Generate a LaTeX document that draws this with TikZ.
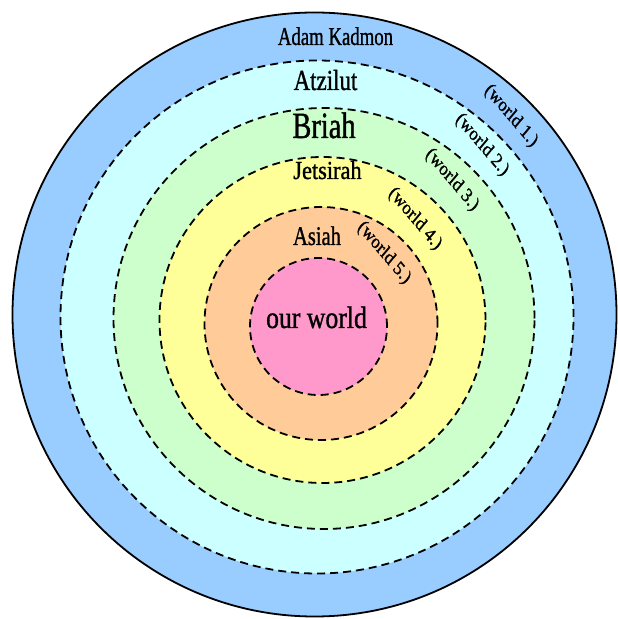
\documentclass[tikz,border=0pt]{standalone}
\usepackage{fontspec}
\setmainfont{Liberation Serif}[FakeBold=1.2]
\definecolor{cAdam}{HTML}{99CCFF}
\definecolor{cAtz}{HTML}{CCFFFF}
\definecolor{cBri}{HTML}{CCFFCC}
\definecolor{cJet}{HTML}{FFFF99}
\definecolor{cAsi}{HTML}{FFCC99}
\definecolor{cOur}{HTML}{FF99CC}
\tikzset{
  ring/.style={draw=black, line width=1.8pt, dash pattern=on 8pt off 5pt},
  outerring/.style={draw=black, line width=1.8pt},
  lbl/.style={inner sep=0pt, anchor=base, text=black},
  wlbl/.style={inner sep=0pt, anchor=center, text=black, font=\fontsize{20}{22}\selectfont, xscale=0.85},
}
\begin{document}
\begin{tikzpicture}[x=1pt,y=1pt]
\useasboundingbox (0,0) rectangle (618,619);
% rings
\path[outerring, fill=cAdam] (314.5,304.5) circle[radius=302];
\path[ring, fill=cAtz] (317,302) circle[radius=256.5];
\path[ring, fill=cBri] (324,300.5) circle[radius=210.5];
\path[ring, fill=cJet] (322.5,299) circle[radius=163];
\path[ring, fill=cAsi] (321,295.5) circle[radius=116.5];
\path[ring, fill=cOur] (318.5,292.5) circle[radius=68.5];
% names
\node[lbl, font=\fontsize{25.7}{30}\selectfont, xscale=0.73] (adam) at (335.5,574) {Adam Kadmon};
\node[lbl, font=\fontsize{29}{34}\selectfont, xscale=0.79] (atz) at (325.5,529) {Atzilut};
\node[lbl, font=\fontsize{37}{42}\selectfont, xscale=0.77] (bri) at (324,481) {Briah};
\node[lbl, font=\fontsize{26}{30}\selectfont, xscale=0.86] (jet) at (327.5,440) {Jetsirah};
\node[lbl, font=\fontsize{27}{32}\selectfont, xscale=0.76] (asi) at (317,374) {Asiah};
\node[lbl, font=\fontsize{31}{36}\selectfont, xscale=0.83] (our) at (316.5,291) {our world};
% world numbers
\node[wlbl, rotate=-45] (w1) at (511,503) {(world 1.)};
\node[wlbl, rotate=-45] (w2) at (482,474) {(world 2.)};
\node[wlbl, rotate=-45] (w3) at (452,439) {(world 3.)};
\node[wlbl, rotate=-45] (w4) at (415,400) {(world 4.)};
\node[wlbl, rotate=-45] (w5) at (384,366) {(world 5.)};
\end{tikzpicture}
\end{document}
